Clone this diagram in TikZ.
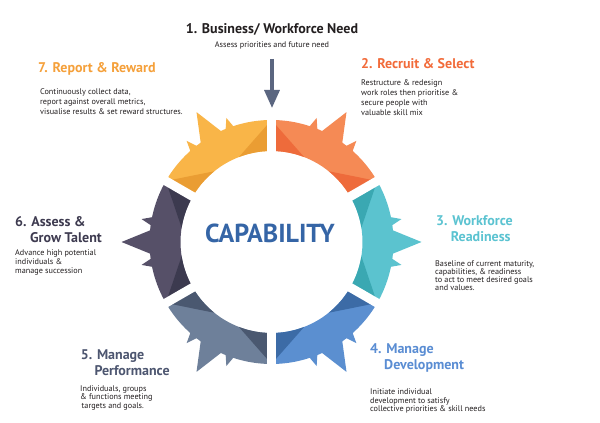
\documentclass[tikz,border=0pt]{standalone}
\usepackage{fontspec}
\setmainfont{PT Sans}
\usetikzlibrary{arrows.meta}
\definecolor{orL}{HTML}{F58A55}
\definecolor{orD}{HTML}{EE6B3B}
\definecolor{teL}{HTML}{5BC3CF}
\definecolor{teD}{HTML}{3AA8B2}
\definecolor{blL}{HTML}{5B8FD0}
\definecolor{blD}{HTML}{3C6BA6}
\definecolor{slL}{HTML}{6E809A}
\definecolor{slD}{HTML}{4A5870}
\definecolor{puL}{HTML}{565068}
\definecolor{puD}{HTML}{3C3A4F}
\definecolor{yeL}{HTML}{F9B548}
\definecolor{yeD}{HTML}{EA9D33}
\definecolor{txt}{HTML}{231F20}
\definecolor{cap}{HTML}{3565A6}
\definecolor{arr}{HTML}{5B6680}
\definecolor{tOr}{HTML}{F26B3A}
\definecolor{tTe}{HTML}{5BC3D1}
\definecolor{tBl}{HTML}{5A8DD3}
\definecolor{tSl}{HTML}{4D5670}
\definecolor{tPu}{HTML}{3E3B50}
\definecolor{tYe}{HTML}{F5A03A}
\begin{document}
\begin{tikzpicture}[x=1pt,y=1pt,
  head/.style={font=\bfseries\fontsize{14}{15}\selectfont, anchor=base west, inner sep=0},
  body/.style={font=\fontsize{8.2}{9}\selectfont, anchor=base west, inner sep=0, align=left, text=txt},
  gapline/.style={white, line width=9},
]
\useasboundingbox[fill=white] (0,0) rectangle (600,423);
% ring
\begin{scope}[shift={(271.5,181)}]
\foreach \c/\L/\D in {60/orL/orD, 0/teL/teD, -60/blL/blD, -120/slL/slD, 180/puL/puD, 120/yeL/yeD} {
  \fill[\L] (\c-30:91) arc[start angle=\c-30, end angle=\c+30, radius=91]
     -- (\c+30:122) arc[start angle=\c+30, end angle=\c-30, radius=122] -- cycle;
  \fill[\L] (\c-6.5:118) -- (\c:150) -- (\c+6.5:118) -- cycle;
  \fill[\L] (\c+7:118) -- (\c+10:132) -- (\c+12.5:118) -- cycle;
  \fill[\L] (\c-12.5:118) -- (\c-10:132) -- (\c-7:118) -- cycle;
  \fill[\D] (\c-30:122) -- (\c-30:91) arc[start angle=\c-30, end angle=\c-9, radius=91] -- cycle;
  \fill[\D] (\c+30:122) -- (\c+30:91) arc[start angle=\c+30, end angle=\c+9, radius=91] -- cycle;
}
\foreach \g in {90,30,-30,-90,-150,150} \draw[gapline] (\g:80) -- (\g:135);
\end{scope}
\node[font=\bfseries\fontsize{26}{30}\selectfont, text=cap] (capability) at (270,190) {CAPABILITY};
% arrow
\coordinate (arrowstart) at (272,364);
\coordinate (arrowend) at (272,315);
\draw[arr, line width=3.3, -{Triangle[width=15,length=18]}] (arrowstart) -- (arrowend);
% headings and texts
\node[head, anchor=base, text=txt] (h1) at (272,389.7) {1. Business/ Workforce Need};
\node[body, anchor=base] (b1) at (272,375) {Assess priorities and future need};
\node[head, text=tOr] (h2) at (361,354.7) {2. Recruit \& Select};
\node[body, font=\fontsize{8.2}{10.3}\selectfont] (b2) at (361,307) {Restructure \& redesign\\work roles then prioritise \&\\secure people with\\valuable skill mix};
\node[head, text=tYe] (h7) at (38,350.3) {7. Report \& Reward};
\node[body, font=\fontsize{8.2}{10}\selectfont] (b7) at (40,308.7) {Continuously collect data,\\report against overall metrics,\\visualise results \& set reward structures.};
\node[head, text=tPu] (h6a) at (15,196.3) {6. Assess \&};
\node[head, text=tPu] (h6b) at (30,180.7) {Grow Talent};
\node[body, font=\fontsize{8.2}{8.7}\selectfont] (b6) at (15,149.7) {Advance high potential\\individuals \&\\manage succession};
\node[head, text=tTe] (h3a) at (436,197.3) {3. Workforce};
\node[head, text=tTe] (h3b) at (450.7,181.3) {Readiness};
\node[body, font=\fontsize{8.2}{8.2}\selectfont] (b3) at (435,132) {Baseline of current maturity,\\capabilities, \& readiness\\to act to meet desired goals\\and values.};
\node[head, text=tBl] (h4a) at (370,69) {4. Manage};
\node[head, text=tBl] (h4b) at (384,53) {Development};
\node[body, font=\fontsize{8.2}{8.5}\selectfont] (b4) at (370,11) {Initiate individual\\development to satisfy\\collective priorities \& skill needs};
\node[head, text=tSl] (h5a) at (80.7,63) {5. Manage};
\node[head, text=tSl] (h5b) at (94.3,47) {Performance};
\node[body, font=\fontsize{8.2}{8.3}\selectfont] (b5) at (80,14.7) {Individuals, groups\\\& functions meeting\\\hspace{1.5pt}targets and goals.};
\end{tikzpicture}
\end{document}
